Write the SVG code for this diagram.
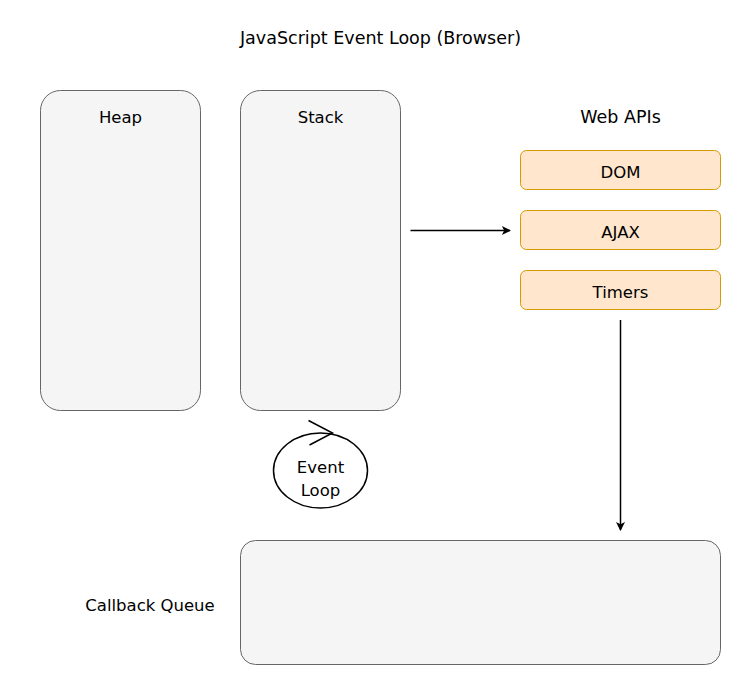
<svg xmlns="http://www.w3.org/2000/svg" width="741" height="686" viewBox="0 0 741 686">
  <style>
    text { font-family: "Comic Sans MS", "DejaVu Sans", sans-serif; font-size: 16.5px; fill: #000; text-anchor: middle; dominant-baseline: central; }
    .big { font-size: 17.5px; }
    .region { fill: #f5f5f5; stroke: #666666; stroke-width: 1; }
    .api { fill: #ffe6cc; stroke: #d79b00; stroke-width: 1; }
    .edge { fill: none; stroke: #000; stroke-width: 1.5; }
  </style>
  <defs>
    <marker id="arrow" viewBox="0 0 10 10" refX="9" refY="5" markerWidth="10" markerHeight="9" markerUnits="userSpaceOnUse" orient="auto">
      <path d="M0,0 L10,5 L0,10 L2.5,5 Z" fill="#000"/>
    </marker>
  </defs>

  <rect width="741" height="686" fill="#ffffff"/>

  <text id="title" class="big" x="380.5" y="38">JavaScript Event Loop (Browser)</text>

  <g id="heap">
    <rect class="region" x="40.5" y="90.5" width="160" height="320" rx="20"/>
    <text x="120.5" y="117">Heap</text>
  </g>

  <g id="stack">
    <rect class="region" x="240.5" y="90.5" width="160" height="320" rx="20"/>
    <text x="320.5" y="117">Stack</text>
  </g>

  <g id="web-apis">
    <text class="big" x="620.5" y="117">Web APIs</text>
  </g>

  <g id="dom">
    <rect class="api" x="520.5" y="150.5" width="200" height="39" rx="6"/>
    <text x="620.5" y="172">DOM</text>
  </g>

  <g id="ajax">
    <rect class="api" x="520.5" y="210.5" width="200" height="39" rx="6"/>
    <text x="620.5" y="232">AJAX</text>
  </g>

  <g id="timers">
    <rect class="api" x="520.5" y="270.5" width="200" height="39" rx="6"/>
    <text x="620.5" y="292">Timers</text>
  </g>

  <g id="event-loop">
    <ellipse cx="320.5" cy="470.5" rx="47" ry="37.5" fill="#ffffff" stroke="#000" stroke-width="1.5"/>
    <polyline points="308.5,420.5 332.5,433 309.5,445" fill="none" stroke="#000" stroke-width="1.5"/>
    <text x="320.5" y="467">Event</text>
    <text x="320.5" y="490">Loop</text>
  </g>

  <g id="callback-queue">
    <rect class="region" x="240.5" y="540.5" width="480" height="124" rx="15"/>
    <text x="150" y="605">Callback Queue</text>
  </g>

  <g id="connectors">
    <line class="edge" x1="410.5" y1="230.5" x2="510" y2="230.5" marker-end="url(#arrow)"/>
    <line class="edge" x1="620.5" y1="320" x2="620.5" y2="530" marker-end="url(#arrow)"/>
  </g>
</svg>
